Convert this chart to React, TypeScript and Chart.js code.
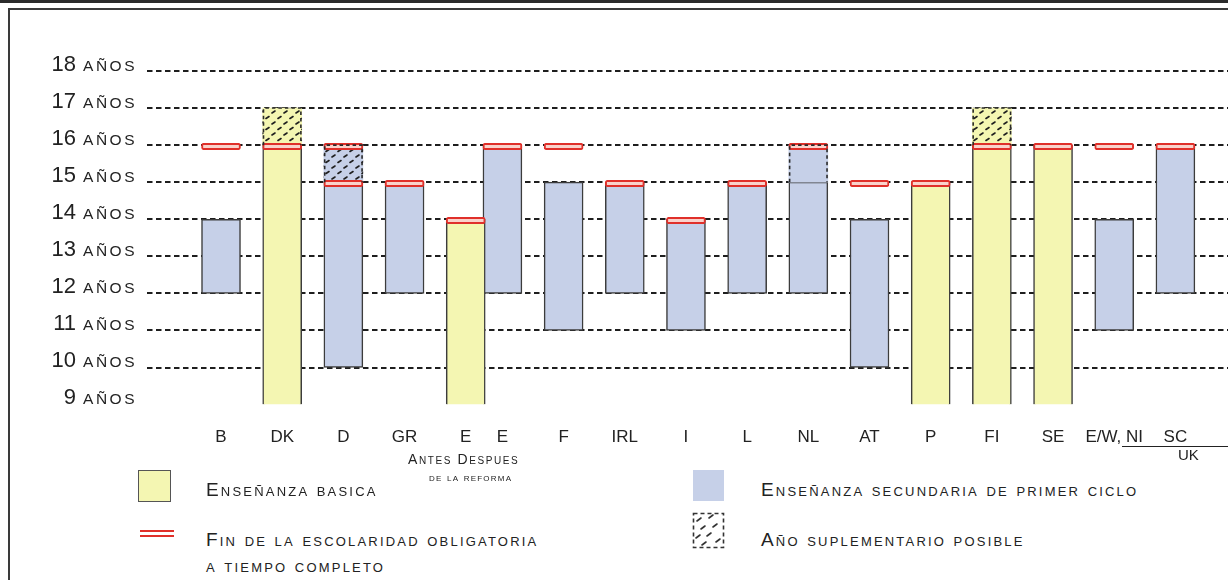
import React, { useEffect, useRef } from 'react';
import { Chart, registerables } from 'chart.js';

Chart.register(...registerables);

// ---------- data ----------
const columns = ['B', 'DK', 'D', 'GR', 'E', 'E', 'F', 'IRL', 'I', 'L', 'NL', 'AT', 'P', 'FI', 'SE', 'E/W, NI', 'SC'];
// E (después de la reforma) sits directly against E (antes)
const attachedToPrevious = [false, false, false, false, false, true, false, false, false, false, false, false, false, false, false, false, false];

type Range = [number, number] | null;
const basicEducation: Range[] = [null, [9, 16], null, null, [9, 14], null, null, null, null, null, null, null, [9, 15], [9, 16], [9, 16], null, null];
const lowerSecondary: Range[] = [[12, 14], null, [10, 15], [12, 15], null, [12, 16], [11, 15], [12, 15], [11, 14], [12, 15], [12, 15], [10, 14], null, null, null, [11, 14], [12, 16]];
const extraYear: Range[] = [null, [16, 17], [15, 16], null, null, null, null, null, null, null, [15, 16], null, null, [16, 17], null, null, null];
const compulsoryEnd: number[][] = [[16], [16], [15, 16], [15], [14], [16], [16], [15], [14], [15], [16], [15], [15], [16], [16], [16], [16]];
const ageTicks = [9, 10, 11, 12, 13, 14, 15, 16, 17, 18];
const ageUnit = 'AÑOS';

// ---------- style ----------
const FONT = '"Liberation Sans", Arial, Helvetica, sans-serif';
const TEXT = '#222222';
const YELLOW = '#f4f6b2';
const BLUE = '#c6d0e8';
const EDGE = '#3c3c3c';
const RED = '#e0302a';
const PINK = '#f9d2cb';
const BAR_FRACTION = 0.6;
const UNHATCHED_EXTRA = ['NL'];
const MARK_BELOW = 0.12;
const MARK_ABOVE = 0.05;

const positions: number[] = [];
columns.forEach((_, i) => {
  positions.push(i === 0 ? 0 : positions[i - 1] + (attachedToPrevious[i] ? BAR_FRACTION : 1));
});

function toPoints(arr: Range[]) {
  const pts: { x: number; y: [number, number] }[] = [];
  arr.forEach((r, i) => {
    if (r) pts.push({ x: positions[i], y: r });
  });
  return pts;
}

function makeHatch(fill: string) {
  const c = document.createElement('canvas');
  c.width = 12;
  c.height = 11;
  const g = c.getContext('2d')!;
  g.fillStyle = fill;
  g.fillRect(0, 0, 12, 11);
  g.strokeStyle = '#1f1f1f';
  g.lineWidth = 1.6;
  g.lineCap = 'round';
  g.beginPath();
  g.moveTo(2, 8.5);
  g.lineTo(5, 6.5);
  g.moveTo(8, 3);
  g.lineTo(11, 1);
  g.stroke();
  return g.createPattern(c, 'repeat')!;
}

const yLabelPlugin = {
  id: 'yLabels',
  afterDraw(chart: any) {
    const ys = chart.scales.y;
    const ctx = chart.ctx as CanvasRenderingContext2D;
    const RIGHT = 137;
    ctx.save();
    ctx.fillStyle = TEXT;
    ctx.textBaseline = 'alphabetic';
    ctx.textAlign = 'left';
    for (const v of ageTicks) {
      const py = ys.getPixelForValue(v) - 0.5;
      ctx.font = `15.5px ${FONT}`;
      (ctx as any).letterSpacing = '2.5px';
      const wA = ctx.measureText(ageUnit).width;
      ctx.fillText(ageUnit, RIGHT - wA, py);
      (ctx as any).letterSpacing = '0px';
      ctx.font = `22px ${FONT}`;
      const s = String(v);
      const wN = ctx.measureText(s).width;
      ctx.fillText(s, RIGHT - wA - 7 - wN, py);
    }
    ctx.restore();
  },
};

const dashedOutlinePlugin = {
  id: 'dashedOutline',
  afterDatasetsDraw(chart: any) {
    const ctx = chart.ctx as CanvasRenderingContext2D;
    chart.data.datasets.forEach((ds: any, di: number) => {
      if (!ds.dashedOutline) return;
      const meta = chart.getDatasetMeta(di);
      ctx.save();
      ctx.strokeStyle = '#2a2a2a';
      ctx.lineWidth = 1.6;
      ctx.setLineDash([3.5, 3]);
      meta.data.forEach((el: any) => {
        const { x, y, base, width } = el.getProps(['x', 'y', 'base', 'width'], true);
        const l = x - width / 2 + 0.8;
        const r = x + width / 2 - 0.8;
        ctx.beginPath();
        ctx.moveTo(l, base);
        ctx.lineTo(l, y);
        ctx.lineTo(r, y);
        ctx.lineTo(r, base);
        ctx.stroke();
      });
      ctx.restore();
    });
  },
};

function HatchSwatch() {
  const marks: [number, number][] = [[5, 9], [17, 6], [9, 17], [21, 15], [4, 26], [15, 24], [24, 30], [10, 33]];
  return (
    <svg width={34} height={38} style={{ position: 'absolute', left: 692, top: 512 }}>
      <rect x={1.5} y={1.5} width={30} height={34} fill="none" stroke="#333" strokeWidth={1.6} strokeDasharray="4 3" />
      {marks.map(([x, y], i) => (
        <line key={i} x1={x} y1={y} x2={x + 4} y2={y - 3} stroke="#333" strokeWidth={1.6} strokeLinecap="round" />
      ))}
    </svg>
  );
}

export default function App() {
  const canvasRef = useRef<HTMLCanvasElement>(null);

  useEffect(() => {
    const ctx = canvasRef.current!.getContext('2d')!;
    const extraPts = toPoints(extraYear);
    const extraColors: (string | CanvasPattern)[] = [];
    extraYear.forEach((r, i) => {
      if (!r) return;
      const fill = basicEducation[i] ? YELLOW : BLUE;
      extraColors.push(UNHATCHED_EXTRA.includes(columns[i]) ? fill : makeHatch(fill));
    });
    const endPts: { x: number; y: [number, number] }[] = [];
    compulsoryEnd.forEach((vals, i) => {
      vals.forEach((v) => endPts.push({ x: positions[i], y: [v - MARK_BELOW, v + MARK_ABOVE] }));
    });
    const last = positions[positions.length - 1];

    const chart = new Chart(ctx, {
      type: 'bar',
      data: {
        datasets: [
          {
            label: 'Fin de la escolaridad obligatoria a tiempo completo',
            data: endPts as any,
            backgroundColor: PINK,
            borderColor: RED,
            borderWidth: 2,
            borderSkipped: false,
            borderRadius: 2,
            stack: 'all',
          },
          {
            label: 'Año suplementario posible',
            data: extraPts as any,
            backgroundColor: extraColors as any,
            borderWidth: 0,
            stack: 'all',
            dashedOutline: true,
          } as any,
          {
            label: 'Enseñanza basica',
            data: toPoints(basicEducation) as any,
            backgroundColor: YELLOW,
            borderColor: EDGE,
            borderWidth: 1.5,
            borderSkipped: 'start',
            stack: 'all',
          },
          {
            label: 'Enseñanza secundaria de primer ciclo',
            data: toPoints(lowerSecondary) as any,
            backgroundColor: BLUE,
            borderColor: EDGE,
            borderWidth: 1.5,
            borderSkipped: false,
            stack: 'all',
          },
        ],
      },
      options: {
        animation: false,
        responsive: true,
        maintainAspectRatio: false,
        layout: { padding: { left: 147, top: 71, right: 0, bottom: 14 } },
        datasets: { bar: { barThickness: 39 } } as any,
        plugins: { legend: { display: false }, tooltip: { enabled: false } },
        scales: {
          x: {
            type: 'linear',
            stacked: true,
            min: positions[0] - 0.69,
            max: last + 0.34,
            grid: { display: false },
            border: { display: false },
            afterBuildTicks: (scale: any) => {
              scale.ticks = positions.map((v) => ({ value: v }));
            },
            ticks: {
              autoSkip: false,
              maxRotation: 0,
              padding: 15,
              color: TEXT,
              font: { family: FONT, size: 17 },
              callback: (_v: any, i: number) => columns[i],
            },
          },
          y: {
            type: 'linear',
            stacked: false,
            min: ageTicks[0],
            max: ageTicks[ageTicks.length - 1],
            ticks: { display: false, stepSize: 1 },
            grid: {
              drawTicks: false,
              lineWidth: 2,
              color: (c: any) => (c.tick && c.tick.value === ageTicks[0] ? 'rgba(0,0,0,0)' : '#1e1e1e'),
            },
            border: { display: false, dash: [5.5, 3.5] },
          },
        },
      },
      plugins: [yLabelPlugin, dashedOutlinePlugin],
    });
    return () => chart.destroy();
  }, []);

  const sc: React.CSSProperties = { position: 'absolute', fontVariant: 'small-caps', fontSize: 19, letterSpacing: 2.2, lineHeight: '20px', whiteSpace: 'nowrap' };

  return (
    <div style={{ position: 'fixed', left: 0, top: 0, width: 1228, height: 580, background: '#fff', overflow: 'hidden', fontFamily: FONT, color: TEXT }}>
      <div style={{ position: 'absolute', left: 0, top: 0, width: 1228, height: 3, background: '#2b2b2b' }} />
      <div style={{ position: 'absolute', left: 8, top: 8, width: 1260, height: 620, borderTop: '2px solid #3a3a3a', borderLeft: '2px solid #3a3a3a' }} />
      <div style={{ position: 'absolute', left: 0, top: 0, width: 1228, height: 477 }}>
        <canvas ref={canvasRef} />
      </div>

      {/* UK bracket */}
      <div style={{ position: 'absolute', left: 1122, top: 446, width: 106, borderTop: '1.5px solid #222' }} />
      <div style={{ position: 'absolute', left: 1178, top: 447, fontSize: 15, lineHeight: '16px' }}>UK</div>

      {/* reform note */}
      <div style={{ ...sc, left: 408, top: 452, fontSize: 14, letterSpacing: 1.6, lineHeight: '15px' }}>Antes Despues</div>
      <div style={{ ...sc, left: 429, top: 471, fontSize: 12, letterSpacing: 1.2, lineHeight: '13px' }}>de la reforma</div>

      {/* legend */}
      <div style={{ position: 'absolute', left: 138, top: 470, width: 31, height: 30, background: YELLOW, border: '1.5px solid #555' }} />
      <div style={{ ...sc, left: 206, top: 480 }}>Enseñanza basica</div>

      <div style={{ position: 'absolute', left: 140, top: 530, width: 34, height: 3, borderTop: `2px solid ${RED}`, borderBottom: `2px solid ${RED}` }} />
      <div style={{ ...sc, left: 206, top: 530 }}>Fin de la escolaridad obligatoria</div>
      <div style={{ ...sc, left: 206, top: 556 }}>a tiempo completo</div>

      <div style={{ position: 'absolute', left: 693, top: 470, width: 31, height: 31, background: BLUE }} />
      <div style={{ ...sc, left: 761, top: 480 }}>Enseñanza secundaria de primer ciclo</div>

      <HatchSwatch />
      <div style={{ ...sc, left: 761, top: 530 }}>Año suplementario posible</div>
    </div>
  );
}
